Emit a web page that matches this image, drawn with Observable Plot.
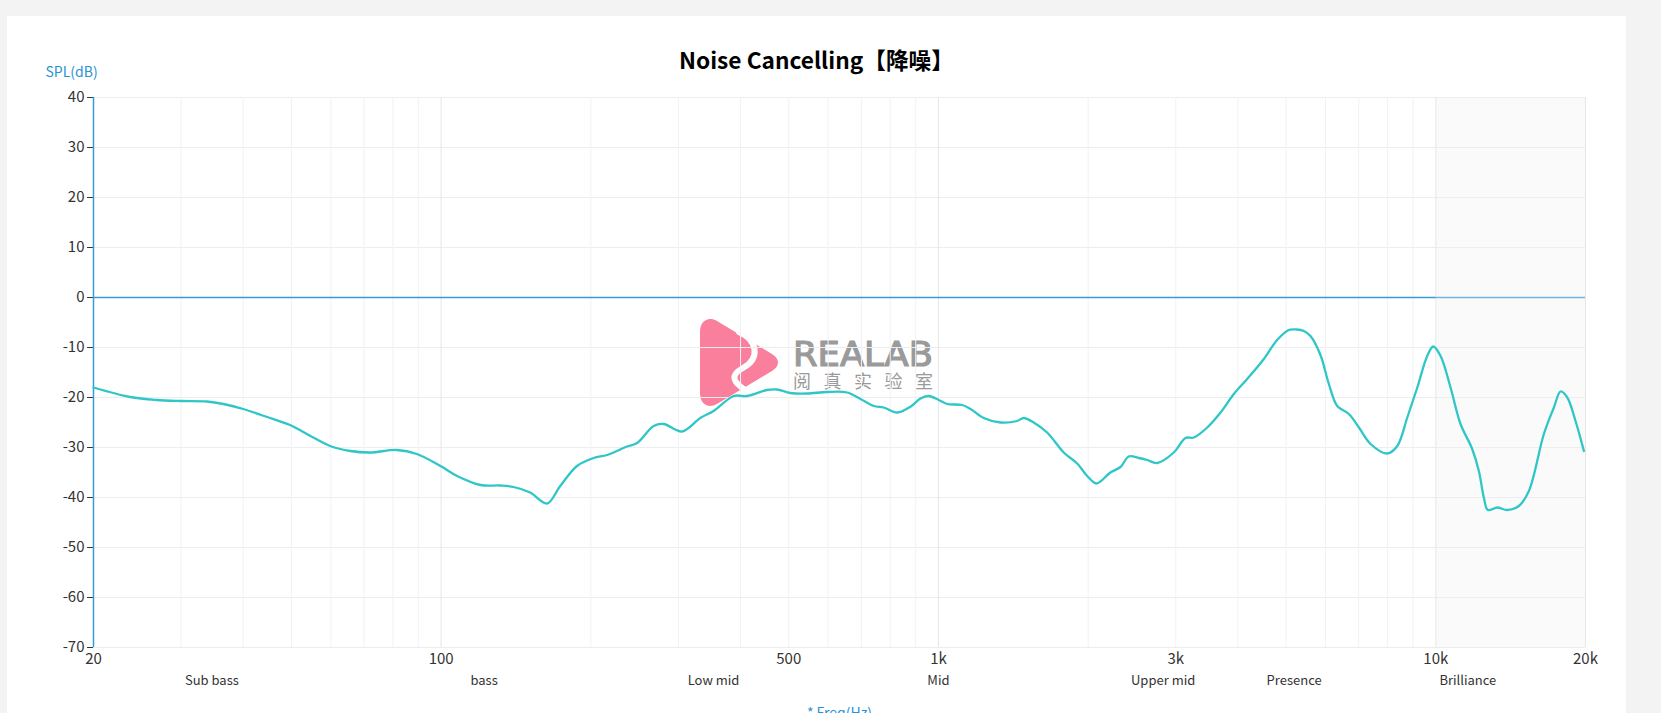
<!DOCTYPE html>
<html>
<head>
<meta charset="utf-8">
<script src="https://cdn.jsdelivr.net/npm/d3@7"></script>
<script src="https://cdn.jsdelivr.net/npm/@observablehq/plot@0.6"></script>
<style>
  html, body { margin: 0; padding: 0; }
  body { width: 1661px; height: 713px; overflow: hidden; background: #f3f3f3; position: relative; font-family: "Noto Sans CJK SC", "Noto Sans", sans-serif; }
  #card { position: absolute; left: 7px; top: 16px; width: 1619px; height: 760px; background: #ffffff; }
  #title { position: absolute; left: 0; top: 49px; width: 1633px; text-align: center; font-size: 22.7px; line-height: 22px; font-weight: 700; color: #000; z-index: 3; }
  #watermark { position: absolute; left: 700px; top: 318px; width: 240px; height: 92px; z-index: 1; }
  #chart { position: absolute; left: 0; top: 0; z-index: 2; }
</style>
</head>
<body>
<div id="card"></div>
<div id="title">Noise Cancelling【降噪】</div>
<div id="watermark">
  <svg width="240" height="92" viewBox="0 0 240 92">
    <path d="M0 14 C0 3 8 -2 17 3 L72 36 C80 41 80 48 72 53 L17 86 C8 91 0 86 0 75 Z" fill="#f97f9d"/>
    <path d="M39 14 C57 22 61 40 43 50 C30 57 32 64 47 73" fill="none" stroke="#ffffff" stroke-width="6" stroke-linecap="round"/>
    <text x="93" y="48" font-family="DejaVu Sans" font-size="33" fill="#9a9a9a" stroke="#9a9a9a" stroke-width="1.2" textLength="140" lengthAdjust="spacingAndGlyphs">REALAB</text>
    <text x="93" y="70" font-family="Noto Sans CJK SC" font-size="18" fill="#9a9a9a" textLength="140" lengthAdjust="spacing">阅真实验室</text>
  </svg>
</div>
<div id="chart"></div>
<script>
// Frequency response (Hz) and SPL (dB)
const freqs = [20, 23.7, 26.8, 30, 33.8, 36.5, 40, 44.7, 49.7, 54.6, 59.8, 65.7, 72, 81.5, 89.4, 99.7, 107.7, 120, 131.6, 139.9, 151, 163.3, 173.6, 187.6, 202.6, 215.6, 236.5, 247.8, 267.5, 280.3, 305, 332, 353, 387.6, 412.3, 452, 473.6, 503.7, 544, 597, 655, 697, 741, 776, 826, 880, 920, 956, 1001, 1041, 1116, 1160, 1233, 1333, 1439, 1484, 1554, 1654, 1786, 1901, 1991, 2079, 2217, 2323, 2413, 2529, 2629, 2753, 2973, 3139, 3262, 3471, 3691, 3926, 4176, 4511, 4797, 5064, 5250, 5429, 5597, 5863, 6095, 6336, 6687, 7006, 7393, 7986, 8367, 8764, 9180, 9612, 9884, 10224, 10707, 11214, 11835, 12207, 12491, 12727, 13293, 13924, 14688, 15386, 16495, 17277, 17822, 18382, 19097, 19852];
const spl = [-18.0, -19.9, -20.5, -20.7, -20.8, -21.3, -22.3, -23.9, -25.5, -27.7, -29.7, -30.7, -31.0, -30.5, -31.3, -33.7, -35.7, -37.5, -37.6, -37.9, -39.0, -41.2, -37.7, -33.7, -32.1, -31.5, -29.8, -29.1, -25.7, -25.3, -26.8, -24.1, -22.7, -19.7, -19.7, -18.5, -18.4, -19.1, -19.2, -18.9, -19.0, -20.3, -21.7, -22.0, -23.0, -21.8, -20.2, -19.7, -20.5, -21.3, -21.5, -22.3, -24.1, -25.0, -24.7, -24.1, -25.0, -27.0, -31.0, -33.2, -35.7, -37.2, -35.0, -33.9, -31.8, -32.1, -32.5, -33.1, -31.0, -28.1, -28.0, -26.0, -23.0, -19.3, -16.3, -12.3, -8.5, -6.5, -6.4, -6.7, -7.7, -11.5, -17.3, -21.7, -23.3, -26.0, -29.3, -31.2, -29.7, -24.0, -18.0, -11.7, -9.8, -11.7, -18.0, -25.3, -30.3, -34.7, -40.0, -42.5, -42.0, -42.5, -41.7, -38.7, -27.3, -22.0, -18.8, -20.0, -24.7, -30.7];

const yTicks = [-70, -60, -50, -40, -30, -20, -10, 0, 10, 20, 30, 40];
const xTickValues = [20, 100, 500, 1000, 3000, 10000, 20000];
const xTickLabels = ["20", "100", "500", "1k", "3k", "10k", "20k"];
const minorGrid = [30, 40, 50, 60, 70, 80, 90, 200, 300, 400, 500, 600, 700, 800, 900, 2000, 3000, 4000, 5000, 6000, 7000, 8000, 9000];
const majorGrid = [100, 1000, 10000, 20000];
const bandNames = ["Sub bass", "bass", "Low mid", "Mid", "Upper mid", "Presence", "Brilliance"];
const bandCenters = [34.6, 122, 353, 1000, 2830, 5190, 11600];
const shadeBand = [{x1: 10000, x2: 20000}];

const data = freqs.map((f, i) => ({f, spl: spl[i]}));

const blue = "#3a9ad9";

const chart = Plot.plot({
  width: 1661,
  height: 713,
  marginLeft: 93,
  marginRight: 76,
  marginTop: 97,
  marginBottom: 66,
  style: {background: "transparent", fontFamily: "'Noto Sans CJK SC', 'Noto Sans', sans-serif", fontSize: "15px", color: "#333", overflow: "hidden"},
  x: {type: "log", domain: [20, 20000], axis: null},
  y: {domain: [-70, 40], ticks: yTicks, tickSize: 6, tickPadding: 3, tickFormat: d => String(d), label: null},
  marks: [
    Plot.ruleY(yTicks, {stroke: "#ededed", strokeWidth: 1}),
    Plot.ruleX(minorGrid, {stroke: "#f1f1f8", strokeWidth: 1}),
    Plot.ruleX(majorGrid, {stroke: "#e6e6e9", strokeWidth: 1}),
    Plot.ruleY([0], {stroke: blue, strokeWidth: 1.5}),
    Plot.rect(shadeBand, {x1: "x1", x2: "x2", fill: "#f0f0f0", fillOpacity: 0.32}),
    Plot.ruleX([20], {stroke: blue, strokeWidth: 1.5}),
    Plot.line(data, {x: "f", y: "spl", stroke: "#2fc6c8", strokeWidth: 2.3, curve: "catmull-rom"}),
    Plot.text(xTickValues, {x: d => d, text: (d, i) => xTickLabels[i], frameAnchor: "bottom", dy: 16, fontSize: 15, fill: "#333"}),
    Plot.text(bandCenters, {x: d => d, text: (d, i) => bandNames[i], frameAnchor: "bottom", dy: 37, fontSize: 13, fill: "#333"}),
    Plot.text(["SPL(dB)"], {frameAnchor: "top-left", dx: -48, dy: -30, fontSize: 14, fill: "#2a93d5"}),
    Plot.text(["* Freq(Hz)"], {frameAnchor: "bottom", lineAnchor: "top", dy: 61, fontSize: 14, fill: "#2a93d5"})
  ]
});
document.getElementById("chart").appendChild(chart);
</script>
</body>
</html>
